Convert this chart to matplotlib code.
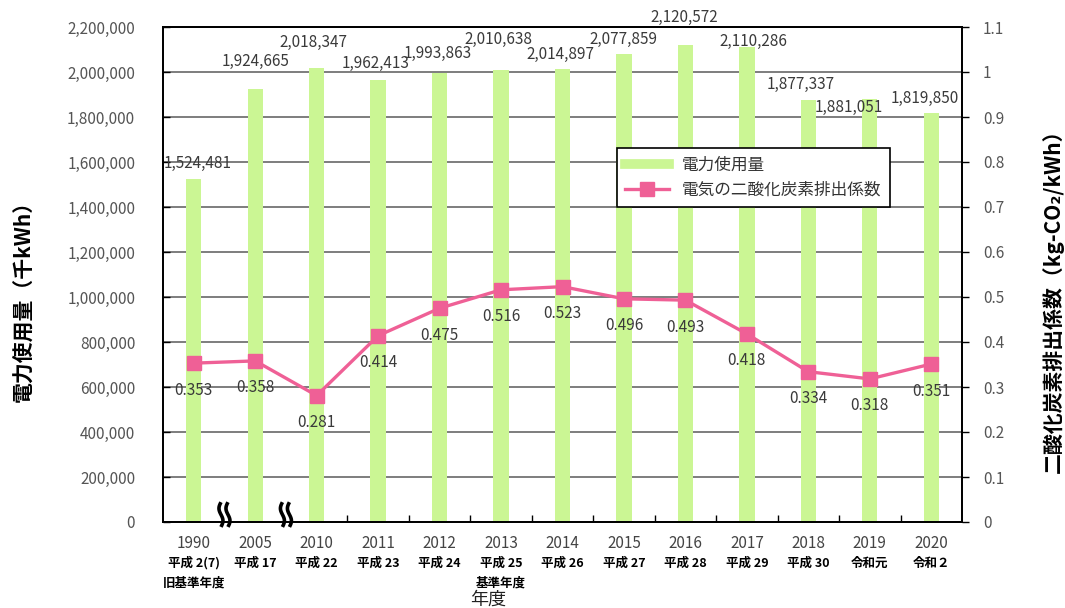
import numpy as np
import matplotlib.pyplot as plt
import matplotlib.transforms as mtransforms
from matplotlib.ticker import FuncFormatter, MultipleLocator, FixedLocator
from matplotlib.lines import Line2D

plt.rcParams['font.family'] = ['Noto Sans CJK JP', 'DejaVu Sans']

years = ['1990', '2005', '2010', '2011', '2012', '2013', '2014',
         '2015', '2016', '2017', '2018', '2019', '2020']
eras = ['平成 2(7)', '平成 17', '平成 22', '平成 23', '平成 24', '平成 25', '平成 26',
        '平成 27', '平成 28', '平成 29', '平成 30', '令和元', '令和２']
notes = ['旧基準年度', '', '', '', '', '基準年度', '', '', '', '', '', '', '']
usage = [1524481, 1924665, 2018347, 1962413, 1993863, 2010638, 2014897,
         2077859, 2120572, 2110286, 1877337, 1881051, 1819850]
coef = [0.353, 0.358, 0.281, 0.414, 0.475, 0.516, 0.523,
        0.496, 0.493, 0.418, 0.334, 0.318, 0.351]

# label nudges in pixels (dx, dy above bar top)
usage_off = [(4, 16), (0, 27), (-3, 25), (-3, 17), (-2, 20), (-3, 30), (-2, 14),
             (-1, 15), (-1, 27), (6, 6), (-8, 15), (-21, -9), (-7, 14)]

green = '#cbf694'
pink = '#ef6096'
grey_txt = '#3a3a3a'

fig = plt.figure(figsize=(10.65, 6.08), dpi=100)
ax = fig.add_axes([163 / 1065, 86 / 608, 799 / 1065, 495 / 608])
ax2 = ax.twinx()

x = np.arange(len(years))
ax.set_axisbelow(True)
ax.yaxis.grid(True, color='#5a5a5a', lw=1.1)
bars = ax.bar(x, usage, width=0.25, color=green, zorder=2, label='電力使用量')

ax.set_xlim(-0.5, len(years) - 0.5)
ax.set_ylim(0, 2200000)
ax.yaxis.set_major_locator(MultipleLocator(200000))
ax.yaxis.set_major_formatter(FuncFormatter(lambda v, p: f'{v:,.0f}'))
ax.tick_params(axis='y', direction='in', length=5, width=1, pad=20,
               labelsize=11, labelcolor='#555555')
ax.set_xticks(x)
ax.set_xticklabels([])
ax.tick_params(axis='x', which='major', length=0)
ax.xaxis.set_minor_locator(FixedLocator(np.arange(2.5, len(years) - 1, 1.0)))
ax.tick_params(axis='x', which='minor', direction='in', length=5, width=1)
for s in ax.spines.values():
    s.set_linewidth(1.3)

for i, (v, (dx, dy)) in enumerate(zip(usage, usage_off)):
    ax.annotate(f'{v:,}', (x[i], v), xytext=(dx, dy), textcoords='offset pixels',
                ha='center', va='center', fontsize=11, color=grey_txt, zorder=5)

line, = ax2.plot(x, coef, color=pink, lw=2.4, marker='s', markersize=10,
                 label='電気の二酸化炭素排出係数', zorder=4)
ax2.set_ylim(0, 1.1)
ax2.yaxis.set_major_locator(MultipleLocator(0.1))
ax2.yaxis.set_major_formatter(FuncFormatter(lambda v, p: f'{round(v, 1):g}'))
ax2.tick_params(axis='y', direction='out', length=5, width=1, pad=10,
                labelsize=11, labelcolor='#555555')
for s in ax2.spines.values():
    s.set_linewidth(1.3)

for i, v in enumerate(coef):
    ax2.annotate(f'{v:.3f}', (x[i], v), xytext=(0, -27), textcoords='offset pixels',
                 ha='center', va='center', fontsize=11, color=grey_txt)

# year / era rows under the axis
xt = mtransforms.blended_transform_factory(ax.transData, ax.transAxes)
for i in range(len(years)):
    ax.annotate(years[i], (x[i], 0), xycoords=xt, xytext=(0, -21),
                textcoords='offset pixels', ha='center', va='center',
                fontsize=11, color='#444444', annotation_clip=False)
    ax.annotate(eras[i], (x[i], 0), xycoords=xt, xytext=(0, -41),
                textcoords='offset pixels', ha='center', va='center',
                fontsize=9, color='black', fontweight='bold', annotation_clip=False)
    if notes[i]:
        ax.annotate(notes[i], (x[i], 0), xycoords=xt, xytext=(0, -61),
                    textcoords='offset pixels', ha='center', va='center',
                    fontsize=9, color='black', fontweight='bold', annotation_clip=False)

# break marks on the x axis between 1990/2005/2010
px = (len(years)) / 799.0
t = np.linspace(0, 1, 30)
for xb in (0.5, 1.5):
    for off in (-3.5, 3.5):
        xs = xb + (off + 2.0 * np.sin(t * 2 * np.pi)) * px
        ys = -0.01 + t * 0.05
        ax.plot(xs, ys, color='black', lw=2.6, transform=xt, clip_on=False,
                zorder=6, solid_capstyle='butt')

fig.text(488 / 1065, 1 - 600 / 608, '年度', ha='center', va='center',
         fontsize=13, color='#222222')
fig.text(24 / 1065, 1 - 296 / 608, '電力使用量（千kWh）', rotation=90,
         ha='center', va='center', fontsize=15, fontweight='bold')
fig.text(1053 / 1065, 1 - 296 / 608, '二酸化炭素排出係数（kg-CO₂/kWh）', rotation=90,
         ha='center', va='center', fontsize=15, fontweight='bold')

bar_handle = Line2D([], [], color=green, lw=7)
leg = ax2.legend([bar_handle, line], ['電力使用量', '電気の二酸化炭素排出係数'],
                 loc='upper left', bbox_to_anchor=(617 / 1065, 1 - 148 / 608),
                 bbox_transform=fig.transFigure, borderaxespad=0, fancybox=False,
                 framealpha=1, edgecolor='black', fontsize=12, handlelength=2.6,
                 borderpad=0.5, labelspacing=0.5)
leg.get_frame().set_linewidth(1.2)
for txt in leg.get_texts():
    txt.set_color('#333333')

fig.savefig('out.png', dpi=100)
